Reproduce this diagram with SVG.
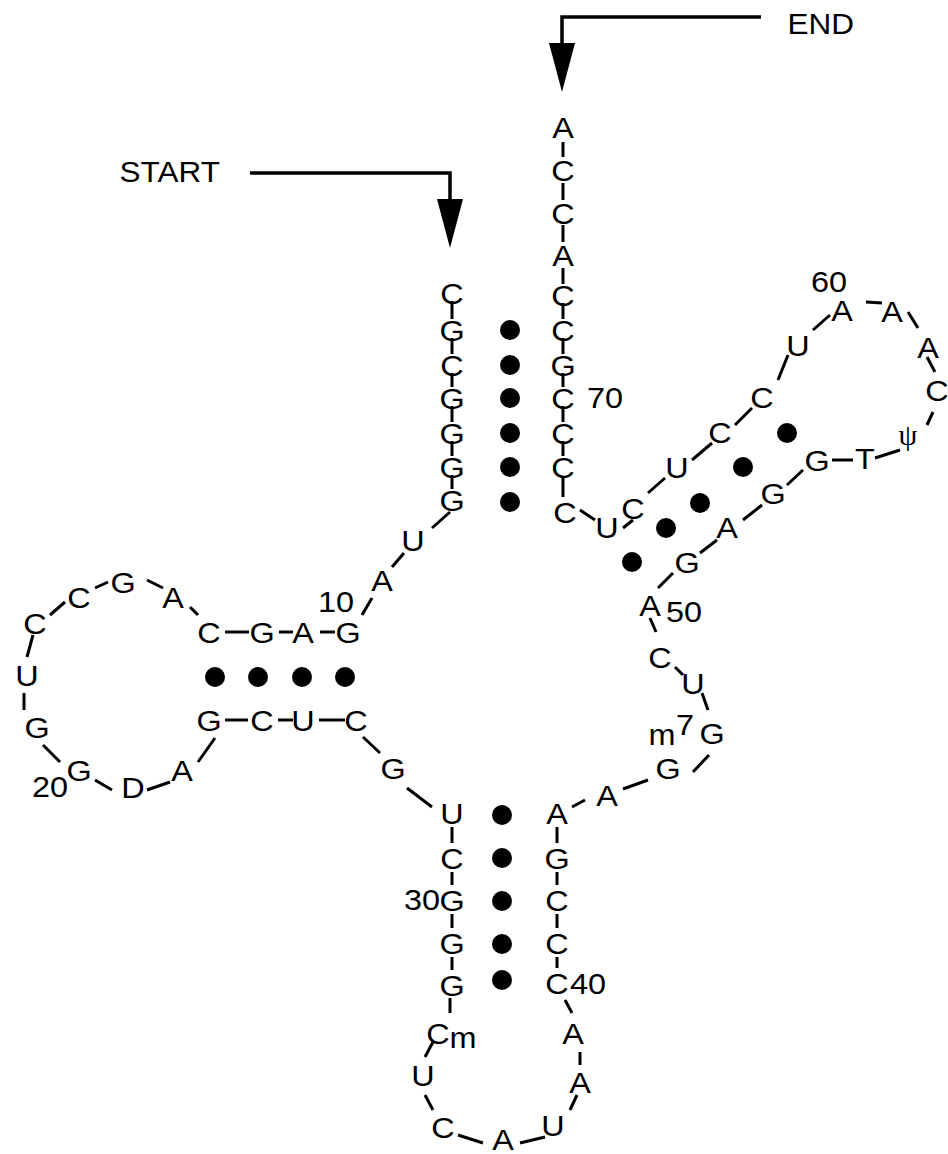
<svg xmlns="http://www.w3.org/2000/svg" width="948" height="1154" viewBox="0 0 948 1154">
  <style>
    text { font-family: "Liberation Sans", Arial, Helvetica, sans-serif; font-size: 30px; fill: #000; }
    .nt, .num { text-anchor: middle; transform-box: fill-box; transform-origin: center; transform: scaleX(1.08); }
    .tag { transform-box: fill-box; transform-origin: center; transform: scaleX(1.05); }
    .psi { text-anchor: middle; font-family: "Liberation Serif", serif; font-size: 30px; }
    .cn line { stroke: #000; stroke-width: 3; stroke-linecap: butt; }
    .arrow { stroke: #000; stroke-width: 3.5; fill: none; }
    .head { fill: #000; }
    .bp circle { fill: #000; }
  </style>
  <rect width="948" height="1154" fill="#fff"/>

  <!-- strand ends -->
  <g id="start"><text class="tag" x="122" y="182">START</text></g>
  <g id="end"><text class="tag" x="789" y="34">END</text></g>

  <!-- backbone connectors -->
  <g id="connectors" class="cn">
    <!-- 5' / 3' arrows -->
    <polyline class="arrow" points="250,173 450,173 450,200"/>
    <polygon class="head" points="437,199 463,199 450,248"/>
    <polyline class="arrow" points="761,17 562,17 562,44"/>
    <polygon class="head" points="549,43 575,43 562,92"/>

    <!-- acceptor stem, 5' strand -->
    <line x1="452" y1="301" x2="452" y2="319"/>
    <line x1="452" y1="338" x2="452" y2="354"/>
    <line x1="452" y1="373" x2="452" y2="387"/>
    <line x1="452" y1="406" x2="452" y2="422"/>
    <line x1="452" y1="441" x2="452" y2="456"/>
    <line x1="452" y1="475" x2="452" y2="489"/>
    <line x1="450" y1="512" x2="432" y2="528"/>
    <line x1="404" y1="553" x2="392" y2="567"/>
    <line x1="372" y1="598" x2="362" y2="615"/>
    <!-- D arm -->
    <line x1="335" y1="632" x2="320" y2="632"/>
    <line x1="293" y1="632" x2="279" y2="632"/>
    <line x1="249" y1="632" x2="225" y2="632"/>
    <line x1="198" y1="615" x2="190" y2="607"/>
    <line x1="163" y1="588" x2="147" y2="580"/>
    <line x1="108" y1="582" x2="95" y2="588"/>
    <line x1="65" y1="602" x2="50" y2="615"/>
    <line x1="33" y1="635" x2="27" y2="657"/>
    <line x1="24" y1="693" x2="24" y2="710"/>
    <line x1="43" y1="745" x2="60" y2="762"/>
    <line x1="95" y1="780" x2="112" y2="790"/>
    <line x1="147" y1="790" x2="170" y2="782"/>
    <line x1="198" y1="762" x2="215" y2="738"/>
    <line x1="225" y1="720" x2="248" y2="720"/>
    <line x1="278" y1="720" x2="293" y2="720"/>
    <line x1="319" y1="720" x2="345" y2="720"/>
    <line x1="363" y1="737" x2="380" y2="753"/>
    <line x1="407" y1="788" x2="432" y2="807"/>
    <!-- anticodon arm -->
    <line x1="452" y1="827" x2="452" y2="843"/>
    <line x1="452" y1="872" x2="452" y2="885"/>
    <line x1="452" y1="914" x2="452" y2="928"/>
    <line x1="452" y1="957" x2="452" y2="970"/>
    <line x1="450" y1="998" x2="450" y2="1013"/>
    <line x1="433" y1="1042" x2="425" y2="1057"/>
    <line x1="425" y1="1095" x2="433" y2="1110"/>
    <line x1="458" y1="1135" x2="483" y2="1143"/>
    <line x1="520" y1="1143" x2="545" y2="1137"/>
    <line x1="570" y1="1110" x2="577" y2="1095"/>
    <line x1="580" y1="1065" x2="580" y2="1052"/>
    <line x1="572" y1="1013" x2="565" y2="1000"/>
    <line x1="557" y1="957" x2="557" y2="968"/>
    <line x1="557" y1="914" x2="557" y2="928"/>
    <line x1="557" y1="872" x2="557" y2="885"/>
    <line x1="557" y1="827" x2="557" y2="843"/>
    <!-- variable loop -->
    <line x1="572" y1="807" x2="585" y2="800"/>
    <line x1="623" y1="789" x2="648" y2="780"/>
    <line x1="693" y1="772" x2="709" y2="755"/>
    <line x1="708" y1="710" x2="702" y2="693"/>
    <line x1="683" y1="675" x2="675" y2="667"/>
    <line x1="656" y1="632" x2="650" y2="618"/>
    <line x1="658" y1="588" x2="673" y2="573"/>
    <!-- T arm -->
    <line x1="700" y1="553" x2="717" y2="540"/>
    <line x1="743" y1="520" x2="762" y2="505"/>
    <line x1="787" y1="485" x2="803" y2="470"/>
    <line x1="832" y1="460" x2="853" y2="460"/>
    <line x1="875" y1="458" x2="900" y2="450"/>
    <line x1="927" y1="425" x2="933" y2="412"/>
    <line x1="935" y1="372" x2="927" y2="357"/>
    <line x1="918" y1="328" x2="908" y2="312"/>
    <line x1="882" y1="303" x2="866" y2="302"/>
    <line x1="830" y1="315" x2="813" y2="330"/>
    <line x1="788" y1="355" x2="778" y2="380"/>
    <line x1="752" y1="408" x2="735" y2="425"/>
    <line x1="712" y1="443" x2="692" y2="460"/>
    <line x1="665" y1="478" x2="648" y2="493"/>
    <line x1="633" y1="520" x2="623" y2="528"/>
    <line x1="595" y1="520" x2="580" y2="510"/>
    <!-- acceptor stem, 3' strand -->
    <line x1="563" y1="477" x2="563" y2="497"/>
    <line x1="563" y1="441" x2="563" y2="456"/>
    <line x1="563" y1="406" x2="563" y2="422"/>
    <line x1="563" y1="373" x2="563" y2="387"/>
    <line x1="563" y1="338" x2="563" y2="354"/>
    <line x1="563" y1="303" x2="563" y2="319"/>
    <line x1="563" y1="268" x2="563" y2="284"/>
    <line x1="563" y1="225" x2="563" y2="242"/>
    <line x1="563" y1="183" x2="563" y2="200"/>
    <line x1="563" y1="142" x2="563" y2="157"/>
  </g>

  <!-- base pairs -->
  <g id="pairs" class="bp">
    <circle cx="510" cy="330" r="10"/>
    <circle cx="510" cy="365" r="10"/>
    <circle cx="510" cy="398" r="10"/>
    <circle cx="510" cy="433" r="10"/>
    <circle cx="510" cy="467" r="10"/>
    <circle cx="510" cy="502" r="10"/>
    <circle cx="215" cy="677" r="10"/>
    <circle cx="258" cy="677" r="10"/>
    <circle cx="302" cy="677" r="10"/>
    <circle cx="345" cy="677" r="10"/>
    <circle cx="502" cy="815" r="10"/>
    <circle cx="502" cy="858" r="10"/>
    <circle cx="502" cy="901" r="10"/>
    <circle cx="502" cy="944" r="10"/>
    <circle cx="502" cy="980" r="10"/>
    <circle cx="787" cy="433" r="10"/>
    <circle cx="743" cy="467" r="10"/>
    <circle cx="700" cy="503" r="10"/>
    <circle cx="666" cy="528" r="10"/>
    <circle cx="632" cy="562" r="10"/>
  </g>

  <!-- nucleotides -->
  <g id="nucleotides">
    <g id="n1"><text class="nt" x="452" y="304">C</text></g>
    <g id="n2"><text class="nt" x="452" y="341">G</text></g>
    <g id="n3"><text class="nt" x="452" y="376">C</text></g>
    <g id="n4"><text class="nt" x="452" y="409">G</text></g>
    <g id="n5"><text class="nt" x="452" y="444">G</text></g>
    <g id="n6"><text class="nt" x="452" y="478">G</text></g>
    <g id="n7"><text class="nt" x="452" y="511">G</text></g>
    <g id="n8"><text class="nt" x="413" y="551">U</text></g>
    <g id="n9"><text class="nt" x="382" y="591">A</text></g>
    <g id="n10"><text class="nt" x="348" y="643">G</text><text class="num" x="336" y="612">10</text></g>
    <g id="n11"><text class="nt" x="303" y="643">A</text></g>
    <g id="n12"><text class="nt" x="262" y="643">G</text></g>
    <g id="n13"><text class="nt" x="209" y="643">C</text></g>
    <g id="n14"><text class="nt" x="173" y="608">A</text></g>
    <g id="n15"><text class="nt" x="123" y="593">G</text></g>
    <g id="n16"><text class="nt" x="79" y="608">C</text></g>
    <g id="n17"><text class="nt" x="35" y="634">C</text></g>
    <g id="n18"><text class="nt" x="27" y="686">U</text></g>
    <g id="n19"><text class="nt" x="37" y="738">G</text></g>
    <g id="n20"><text class="nt" x="79" y="781">G</text><text class="num" x="50" y="797">20</text></g>
    <g id="n21"><text class="nt" x="133" y="798">D</text></g>
    <g id="n22"><text class="nt" x="182" y="781">A</text></g>
    <g id="n23"><text class="nt" x="209" y="731">G</text></g>
    <g id="n24"><text class="nt" x="262" y="731">C</text></g>
    <g id="n25"><text class="nt" x="303" y="731">U</text></g>
    <g id="n26"><text class="nt" x="356" y="731">C</text></g>
    <g id="n27"><text class="nt" x="393" y="779">G</text></g>
    <g id="n28"><text class="nt" x="452" y="824">U</text></g>
    <g id="n29"><text class="nt" x="452" y="869">C</text></g>
    <g id="n30"><text class="nt" x="452" y="911">G</text><text class="num" x="422" y="910">30</text></g>
    <g id="n31"><text class="nt" x="452" y="954">G</text></g>
    <g id="n32"><text class="nt" x="452" y="996">G</text></g>
    <g id="n33"><text class="nt" x="438" y="1044">C</text><text class="nt" x="463" y="1048">m</text></g>
    <g id="n34"><text class="nt" x="423" y="1086">U</text></g>
    <g id="n35"><text class="nt" x="443" y="1138">C</text></g>
    <g id="n36"><text class="nt" x="503" y="1150">A</text></g>
    <g id="n37"><text class="nt" x="553" y="1136">U</text></g>
    <g id="n38"><text class="nt" x="580" y="1093">A</text></g>
    <g id="n39"><text class="nt" x="573" y="1044">A</text></g>
    <g id="n40"><text class="nt" x="557" y="994">C</text><text class="num" x="588" y="994">40</text></g>
    <g id="n41"><text class="nt" x="557" y="954">C</text></g>
    <g id="n42"><text class="nt" x="557" y="911">C</text></g>
    <g id="n43"><text class="nt" x="557" y="869">G</text></g>
    <g id="n44"><text class="nt" x="557" y="824">A</text></g>
    <g id="n45"><text class="nt" x="607" y="806">A</text></g>
    <g id="n46"><text class="nt" x="668" y="779">G</text></g>
    <g id="n47"><text class="nt" x="712" y="744">G</text><text class="nt" x="662" y="745">m</text><text class="nt" x="685" y="735">7</text></g>
    <g id="n48"><text class="nt" x="693" y="694">U</text></g>
    <g id="n49"><text class="nt" x="660" y="668">C</text></g>
    <g id="n50"><text class="nt" x="650" y="616">A</text><text class="num" x="684" y="622">50</text></g>
    <g id="n51"><text class="nt" x="687" y="573">G</text></g>
    <g id="n52"><text class="nt" x="727" y="538">A</text></g>
    <g id="n53"><text class="nt" x="773" y="504">G</text></g>
    <g id="n54"><text class="nt" x="817" y="471">G</text></g>
    <g id="n55"><text class="nt" x="865" y="469">T</text></g>
    <g id="n56"><text class="psi" x="908" y="445">ψ</text></g>
    <g id="n57"><text class="nt" x="937" y="401">C</text></g>
    <g id="n58"><text class="nt" x="928" y="358">A</text></g>
    <g id="n59"><text class="nt" x="892" y="322">A</text></g>
    <g id="n60"><text class="nt" x="842" y="321">A</text><text class="num" x="829" y="292">60</text></g>
    <g id="n61"><text class="nt" x="798" y="356">U</text></g>
    <g id="n62"><text class="nt" x="762" y="408">C</text></g>
    <g id="n63"><text class="nt" x="720" y="443">C</text></g>
    <g id="n64"><text class="nt" x="677" y="478">U</text></g>
    <g id="n65"><text class="nt" x="633" y="519">C</text></g>
    <g id="n66"><text class="nt" x="607" y="538">U</text></g>
    <g id="n67"><text class="nt" x="565" y="523">C</text></g>
    <g id="n68"><text class="nt" x="563" y="478">C</text></g>
    <g id="n69"><text class="nt" x="563" y="444">C</text></g>
    <g id="n70"><text class="nt" x="563" y="409">C</text><text class="num" x="605" y="408">70</text></g>
    <g id="n71"><text class="nt" x="563" y="376">G</text></g>
    <g id="n72"><text class="nt" x="563" y="341">C</text></g>
    <g id="n73"><text class="nt" x="563" y="306">C</text></g>
    <g id="n74"><text class="nt" x="563" y="266">A</text></g>
    <g id="n75"><text class="nt" x="563" y="224">C</text></g>
    <g id="n76"><text class="nt" x="563" y="181">C</text></g>
    <g id="n77"><text class="nt" x="563" y="138">A</text></g>
  </g>
</svg>
